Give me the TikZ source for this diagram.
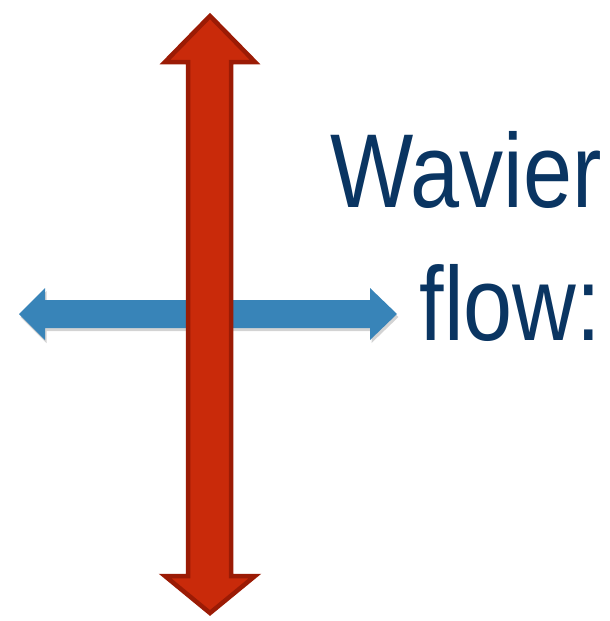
\documentclass[tikz,border=0pt]{standalone}
\usepackage{fontspec}
\setmainfont{Liberation Sans}
\usetikzlibrary{shadows}
\definecolor{redfill}{HTML}{C92A0A}
\definecolor{redline}{HTML}{9B1B05}
\definecolor{bluefill}{HTML}{3884B8}
\definecolor{textblue}{HTML}{0A3562}
\tikzset{
  bluearrow/.style={fill=bluefill, draw=none, drop shadow={opacity=0.35, shadow xshift=1.5pt, shadow yshift=-3pt}},
  redarrow/.style={fill=redfill, draw=redline, line width=4.5pt, line join=miter},
  bigtext/.style={text=textblue, inner sep=0pt, anchor=base east, font=\fontsize{105}{126}\selectfont, xscale=0.84}
}
\begin{document}
\begin{tikzpicture}[x=1pt,y=-1pt]
\useasboundingbox (0,0) rectangle (610,621);
% blue horizontal double arrow
\path[bluearrow] (19,314) -- (45,288) -- (45,300) -- (370,300) -- (370,288) -- (397,314)
  -- (370,340) -- (370,328) -- (45,328) -- (45,340) -- cycle;
% red vertical double arrow
\path[redarrow] (210,16) -- (255,62) -- (231,62) -- (231,576) -- (255,576) -- (210,613)
  -- (165,576) -- (188,576) -- (188,62) -- (165,62) -- cycle;
% text
\node[bigtext] (wavier) at (602,207) {Wavier};
\node[bigtext] (flow) at (601,340) {flow:};
\end{tikzpicture}
\end{document}
